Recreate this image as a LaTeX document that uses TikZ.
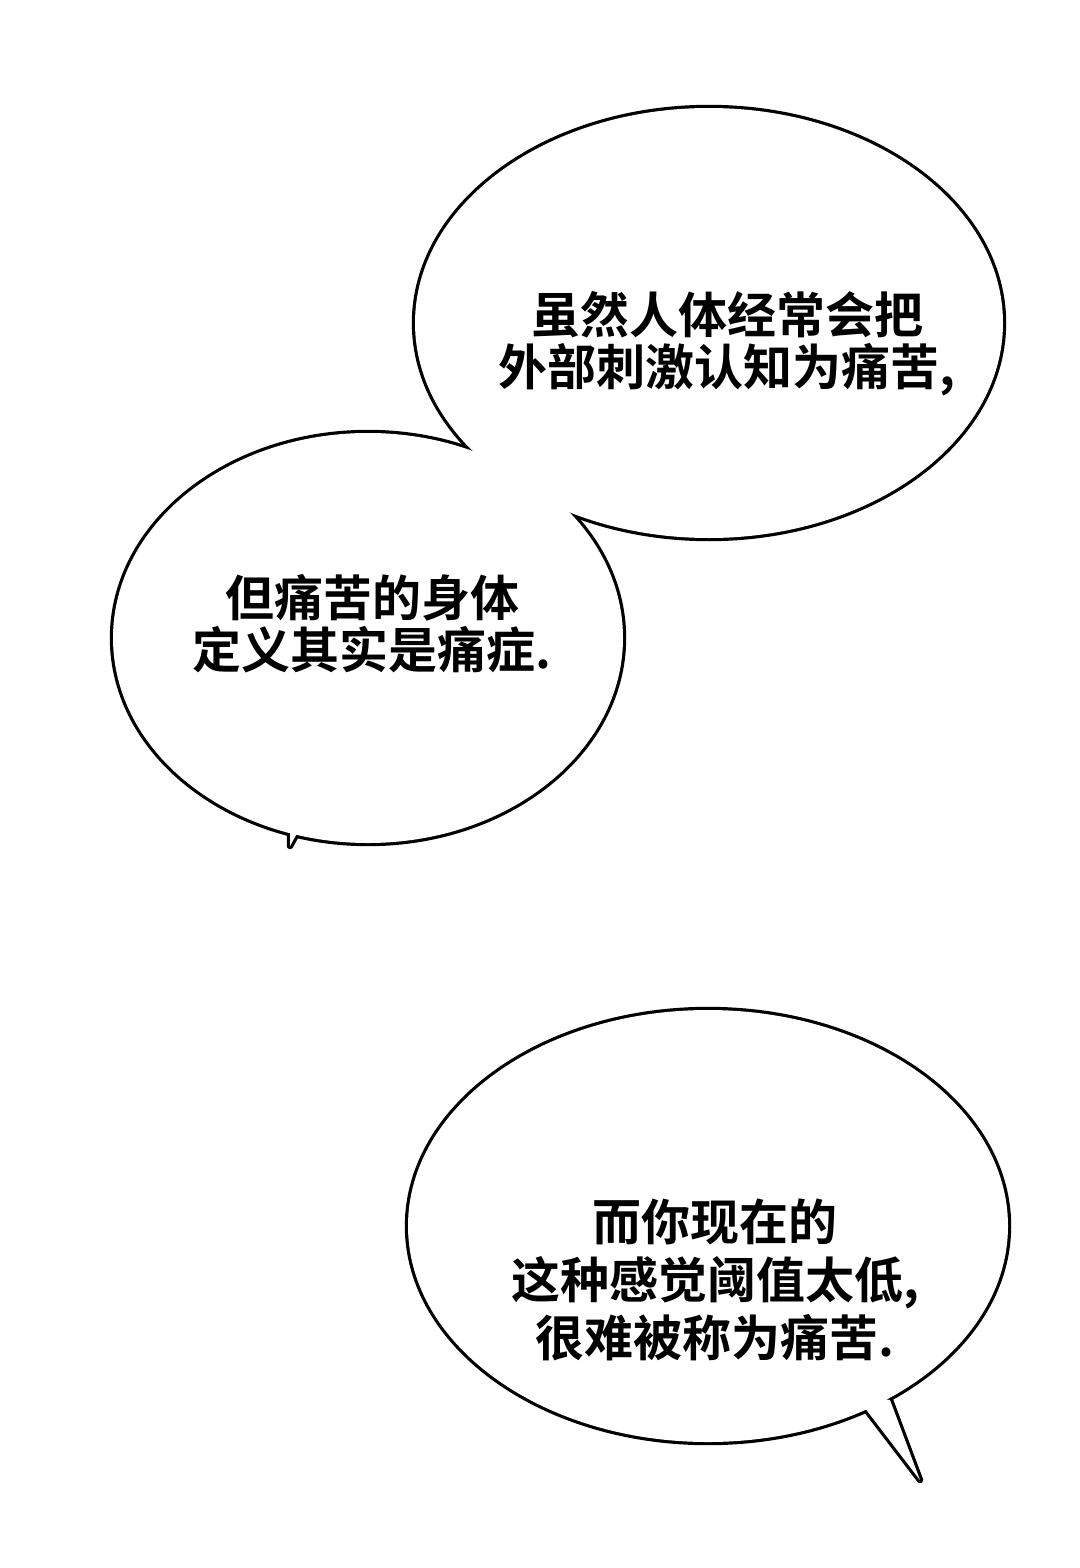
\documentclass[tikz,border=0pt]{standalone}
\usepackage{fontspec}
\newfontfamily\cjk{Noto Sans CJK SC}[BoldFont={Noto Sans CJK SC Bold}]
\begin{document}
\begin{tikzpicture}[x=0.5pt,y=-0.5pt,
  txt/.style={font=\cjk\bfseries\fontsize{24.5}{26}\selectfont,align=center,inner sep=0pt},
  edge/.style={draw=black,line width=3.2pt},
  inner/.style={fill=white}]
\useasboundingbox[fill=white] (0,0) rectangle (1080,1568);
% bubbles 1 & 2 merged
\path[edge] (709,323) ellipse [x radius=294, y radius=215];
\path[edge] (368,638) ellipse [x radius=255, y radius=205];
\path[edge,line join=round] (290,785) -- (290,846) -- (324,785) -- cycle;
\path[inner] (709,323) ellipse [x radius=294, y radius=215];
\path[inner] (368,638) ellipse [x radius=255, y radius=205];
\path[inner] (290,785) -- (290,846) -- (324,785) -- cycle;
% bubble 3
\path[edge] (708,1226) ellipse [x radius=300, y radius=216];
\path[edge,line join=round] (855,1395) -- (920,1480) -- (890,1400) -- cycle;
\path[inner] (708,1226) ellipse [x radius=300, y radius=216];
\path[inner] (855,1395) -- (920,1480) -- (890,1400) -- cycle;
% texts
\node[txt] (t1) at (727,344) {虽然人体经常会把\\外部刺激认知为痛苦,};
\node[txt] (t2) at (372,624) {但痛苦的身体\\定义其实是痛症.};
\node[txt,font=\cjk\bfseries\fontsize{24.5}{29}\selectfont] (t3) at (715,1280) {而你现在的\\这种感觉阈值太低,\\很难被称为痛苦.};
\end{tikzpicture}
\end{document}
